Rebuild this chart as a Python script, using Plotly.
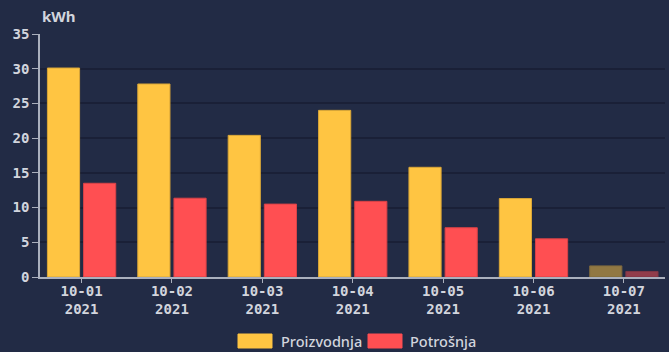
import plotly.graph_objects as go

# Daily energy values (kWh)
days = ["10-01<br>2021", "10-02<br>2021", "10-03<br>2021", "10-04<br>2021",
        "10-05<br>2021", "10-06<br>2021", "10-07<br>2021"]
proizvodnja = [30.1, 27.8, 20.4, 24.0, 15.8, 11.3, 1.6]
potrosnja = [13.5, 11.35, 10.5, 10.9, 7.1, 5.5, 0.8]
# last day is still in progress, drawn faded
opacity = [1, 1, 1, 1, 1, 1, 0.5]

BG = "#222b45"
YELLOW = "#ffc542"
RED = "#ff4f52"
TEXT = "#d2d5dd"
AXIS = "#aab0bd"
GRID = "#1a2037"

fig = go.Figure()
fig.add_bar(x=days, y=proizvodnja, name="Proizvodnja",
            marker=dict(color=YELLOW, opacity=opacity,
                        line=dict(color="#d9a638", width=1)))
fig.add_bar(x=days, y=potrosnja, name="Potrošnja",
            marker=dict(color=RED, opacity=opacity,
                        line=dict(color="#d94347", width=1)))

tickfont = dict(family="DejaVu Sans Mono", size=14, color=TEXT, weight="bold")

fig.update_layout(
    width=669, height=352,
    paper_bgcolor=BG, plot_bgcolor=BG,
    margin=dict(l=40, r=4, t=34, b=75),
    barmode="group", bargap=0.2, bargroupgap=0.11,
    showlegend=False,
    font=dict(family="DejaVu Sans Mono", color=TEXT, size=14),
)
fig.update_xaxes(
    type="category", range=[-0.46, 6.455],
    showline=True, linecolor=AXIS, linewidth=1.5,
    ticks="outside", ticklen=4, tickcolor=AXIS, tickwidth=1,
    ticklabelstandoff=-4,
    showgrid=False, tickfont=tickfont,
)
fig.update_yaxes(
    range=[0, 35], dtick=5,
    showline=True, linecolor=AXIS, linewidth=1.5,
    ticks="outside", ticklen=6, tickcolor=AXIS, tickwidth=1,
    showgrid=True, gridcolor=GRID, gridwidth=1.5, zeroline=False,
    tickfont=tickfont,
)

# unit label above the y axis
fig.add_annotation(text="kWh", xref="paper", yref="paper", x=0, y=1,
                   xanchor="left", yanchor="bottom", yshift=6, showarrow=False,
                   font=dict(family="Noto Sans", size=15, color=TEXT, weight="bold"))

# legend drawn as wide swatches below the chart
legend_items = [("Proizvodnja", YELLOW, 238, 279), ("Potrošnja", RED, 368, 408)]
for label, color, x0, tx in legend_items:
    fig.add_shape(type="rect", xref="paper", yref="paper",
                  x0=(x0 - 40) / 625, x1=(x0 + 34 - 40) / 625,
                  y0=-(341 + 7 - 277) / 243, y1=-(341 - 7 - 277) / 243,
                  fillcolor=color, line=dict(color=color, width=1), layer="above")
    fig.add_annotation(text=label, xref="paper", yref="paper",
                       x=(tx - 40) / 625, y=-(341 - 277) / 243,
                       xanchor="left", yanchor="middle", showarrow=False,
                       font=dict(family="Noto Sans", size=14.5, color=TEXT,
                                 weight=500))

fig.write_html("out.html")
